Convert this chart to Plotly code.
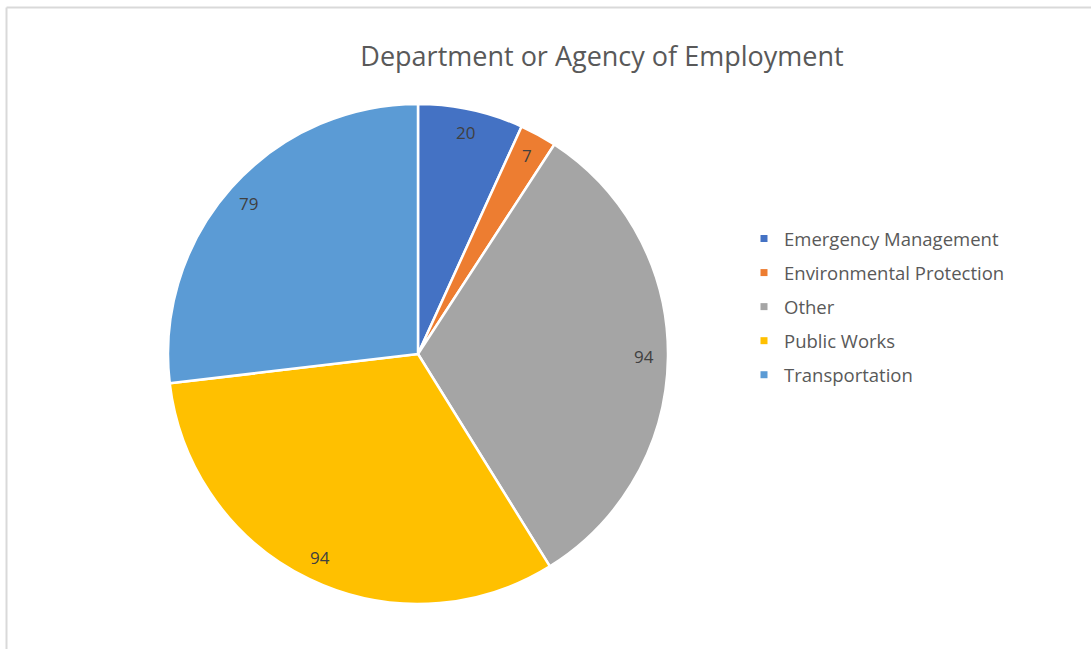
import math
import plotly.graph_objects as go

# Survey responses by department / agency
labels = ["Emergency Management", "Environmental Protection", "Other", "Public Works", "Transportation"]
counts = [20, 7, 94, 94, 79]
colors = ["#4472C4", "#ED7D31", "#A5A5A5", "#FFC000", "#5B9BD5"]

W, H = 1091, 649
FONT = "Open Sans"

# Pie placement in pixels (converted to paper fractions below)
cx_px, cy_px, r_px = 418, 354, 250

fig = go.Figure()
fig.add_trace(go.Pie(
    labels=labels,
    values=counts,
    marker=dict(colors=colors, line=dict(color="white", width=2.5)),
    sort=False,
    direction="clockwise",
    rotation=0,
    textinfo="none",
    hoverinfo="label+value",
    showlegend=False,
    domain=dict(x=[(cx_px - r_px) / W, (cx_px + r_px) / W],
                y=[(H - cy_px - r_px) / H, (H - cy_px + r_px) / H]),
))

# Legend entries with small square swatches
for lab, col in zip(labels, colors):
    fig.add_trace(go.Scatter(
        x=[None], y=[None], mode="markers", name=lab, legendgroup=lab,
        marker=dict(symbol="square", size=7, color=col),
        hoverinfo="skip",
    ))

# Value labels placed near the outer edge of each slice
total = sum(counts)
cum = 0
for v in counts:
    mid = (cum + v / 2) / total * 2 * math.pi
    cum += v
    rr = 0.905 * r_px
    px = cx_px + rr * math.sin(mid)
    py = cy_px - rr * math.cos(mid)
    fig.add_annotation(
        x=px / W, y=1 - py / H, xref="paper", yref="paper",
        text=str(v), showarrow=False,
        font=dict(family=FONT, size=17, color="#404040"),
        xanchor="center", yanchor="middle",
    )

# Thin frame on the top and left edges
fig.add_shape(type="line", xref="paper", yref="paper",
              x0=6.5 / W, x1=1, y0=1 - 7.5 / H, y1=1 - 7.5 / H,
              line=dict(color="#D9D9D9", width=2))
fig.add_shape(type="line", xref="paper", yref="paper",
              x0=6.5 / W, x1=6.5 / W, y0=0, y1=1 - 7.5 / H,
              line=dict(color="#D9D9D9", width=2))

fig.update_layout(
    width=W, height=H,
    margin=dict(l=0, r=0, t=0, b=0),
    paper_bgcolor="white", plot_bgcolor="white",
    title=dict(text="Department or Agency of Employment",
               x=602 / W, xanchor="center", y=1 - 57 / H, yanchor="middle",
               font=dict(family=FONT, size=27, color="#595959")),
    xaxis=dict(visible=False), yaxis=dict(visible=False),
    legend=dict(x=744 / W, xanchor="left", y=1 - 220 / H, yanchor="top",
                font=dict(family=FONT, size=18.5, color="#595959"),
                tracegroupgap=7, bgcolor="rgba(0,0,0,0)"),
    font=dict(family=FONT),
)

fig.write_html("out.html")
